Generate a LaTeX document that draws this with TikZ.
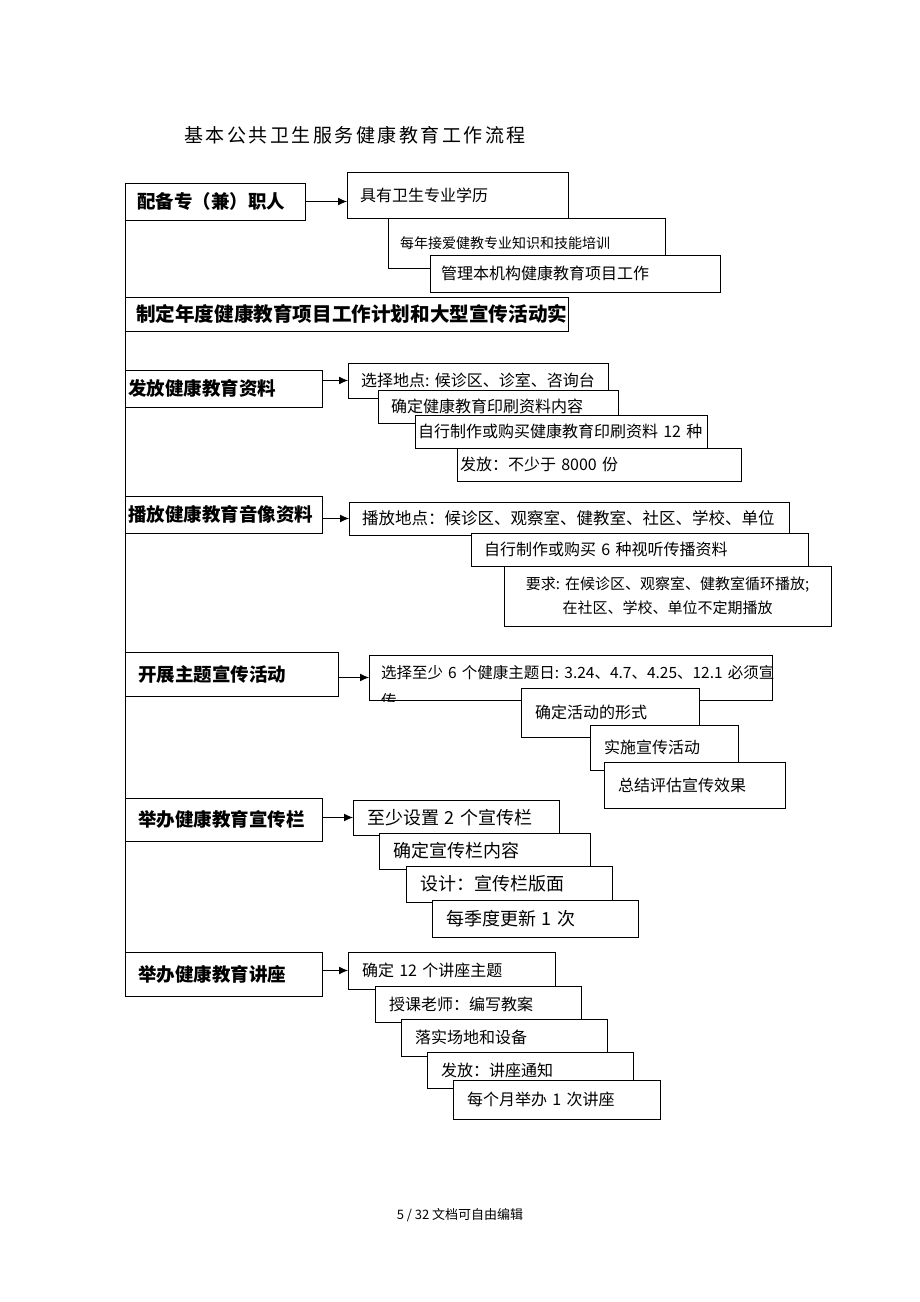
\documentclass[tikz,border=0pt]{standalone}
\usepackage{fontspec}
\setmainfont{Noto Sans CJK SC}
\newfontfamily\titlefont[LetterSpace=13]{Noto Sans CJK SC}
\usetikzlibrary{arrows.meta}

\begin{document}
\begin{tikzpicture}[x=1pt, y=-1pt, line width=1pt,
  mainbox/.style n args={3}{draw, fill=white, anchor=north west, outer sep=0pt, minimum width=#1, minimum height=#2,
    inner xsep=#3, inner ysep=0pt, text width={#1-2*(#3)}, align=left, font=\bfseries\fontsize{18.5}{22}\selectfont},
  subbox/.style n args={3}{draw, fill=white, anchor=north west, outer sep=0pt, minimum width=#1, minimum height=#2,
    inner xsep=#3, inner ysep=0pt, text width={#1-2*(#3)}, align=left, font=\fontsize{16}{20}\selectfont},
  arrowline/.style={-{Latex[length=9pt, width=8pt]}}]
  \useasboundingbox (0,0) rectangle (920,1302);
  \node[font=\titlefont\fontsize{19}{23}\selectfont] (title) at (355,135) {基本公共卫生服务健康教育工作流程};  % Title

  % staff
  \node[mainbox={180}{37}{12}] (M1) at (125,183) {配备专（兼）职人};
  \node[subbox={221}{46}{13}] (S1a) at (347,172) {具有卫生专业学历};
  \node[subbox={277}{50}{12}, font=\fontsize{14}{17}\selectfont] (S1b) at (388,218) {每年接爱健教专业知识和技能培训};
  \node[subbox={290}{37}{11}] (S1c) at (430,255) {管理本机构健康教育项目工作};
  \node[mainbox={443}{34}{11}, font=\bfseries\fontsize{19.6}{24}\selectfont] (M2) at (125,297) {制定年度健康教育项目工作计划和大型宣传活动实};

  % printed material
  \node[mainbox={197}{37}{3}] (M3) at (125,370) {发放健康教育资料};
  \node[subbox={260}{35}{13}] (S3a) at (348,363) {选择地点:~候诊区、诊室、咨询台};
  \node[subbox={240}{33}{13}] (S3b) at (378,390) {确定健康教育印刷资料内容};
  \node[subbox={292}{33}{3}] (S3c) at (415,415) {自行制作或购买健康教育印刷资料~12~种};
  \node[subbox={284}{33}{3}] (S3d) at (457,448) {发放：不少于~8000~份};

  % audio and video
  \node[mainbox={197}{37}{3}] (M4) at (125,496) {播放健康教育音像资料};
  \node[subbox={440}{33}{13}, font=\fontsize{16.5}{20}\selectfont] (S4a) at (349,502) {播放地点：候诊区、观察室、健教室、社区、学校、单位};
  \node[subbox={337}{33}{13}] (S4b) at (471,533) {自行制作或购买~6~种视听传播资料};
  \node[subbox={327}{60}{12}, align=center, font=\fontsize{15}{24}\selectfont] (S4c) at (504,566) {要求:~在候诊区、观察室、健教室循环播放;\\在社区、学校、单位不定期播放};

  % theme days
  \node[mainbox={213}{44}{13}] (M5) at (125,652) {开展主题宣传活动};
  \begin{scope}
    \clip (368,654) rectangle (773,701);
    \node[subbox={403}{45}{12}, font=\fontsize{15.5}{28}\selectfont, text height=1pt, text depth=0pt] (S5a) at (369,655) {选择至少~6~个健康主题日:~3.24、4.7、4.25、12.1~必须宣\\传};
  \end{scope}
  \node[subbox={178}{49}{14}] (S5b) at (521,688) {确定活动的形式};
  \node[subbox={148}{45}{14}] (S5c) at (590,725) {实施宣传活动};
  \node[subbox={181}{46}{14}] (S5d) at (604,762) {总结评估宣传效果};

  % boards
  \node[mainbox={197}{43}{13}] (M6) at (125,798) {举办健康教育宣传栏};
  \node[subbox={206}{35}{14}, font=\fontsize{18}{22}\selectfont] (S6a) at (353,800) {至少设置~2~个宣传栏};
  \node[subbox={211}{36}{14}, font=\fontsize{18}{22}\selectfont] (S6b) at (379,833) {确定宣传栏内容};
  \node[subbox={206}{36}{14}, font=\fontsize{18}{22}\selectfont] (S6c) at (406,866) {设计：宣传栏版面};
  \node[subbox={206}{37}{14}, font=\fontsize{18}{22}\selectfont] (S6d) at (432,900) {每季度更新~1~次};

  % lectures
  \node[mainbox={197}{44}{13}] (M7) at (125,952) {举办健康教育讲座};
  \node[subbox={207}{37}{14}] (S7a) at (348,952) {确定~12~个讲座主题};
  \node[subbox={206}{36}{14}] (S7b) at (375,986) {授课老师：编写教案};
  \node[subbox={206}{37}{14}] (S7c) at (401,1019) {落实场地和设备};
  \node[subbox={206}{36}{14}] (S7d) at (427,1052) {发放：讲座通知};
  \node[subbox={207}{39}{14}] (S7e) at (453,1080) {每个月举办~1~次讲座};

  \draw (M1.north west) -- (M7.south west);  % left rail
  \draw[arrowline] (M1.east) -- (M1.east -| S1a.west);
  \draw[arrowline] (M3.east |- S3a.west) -- (S3a.west);
  \draw[arrowline] (M4.east |- S4a.west) -- (S4a.west);
  \draw[arrowline] (M5.east |- S5a.west) -- (S5a.west);
  \draw[arrowline] (M6.east |- S6a.west) -- (S6a.west);
  \draw[arrowline] (M7.east |- S7a.west) -- (S7a.west);

  \node[font=\fontsize{13}{16}\selectfont] (footer) at (460,1215) {5 / 32 文档可自由编辑};
\end{tikzpicture}
\end{document}
